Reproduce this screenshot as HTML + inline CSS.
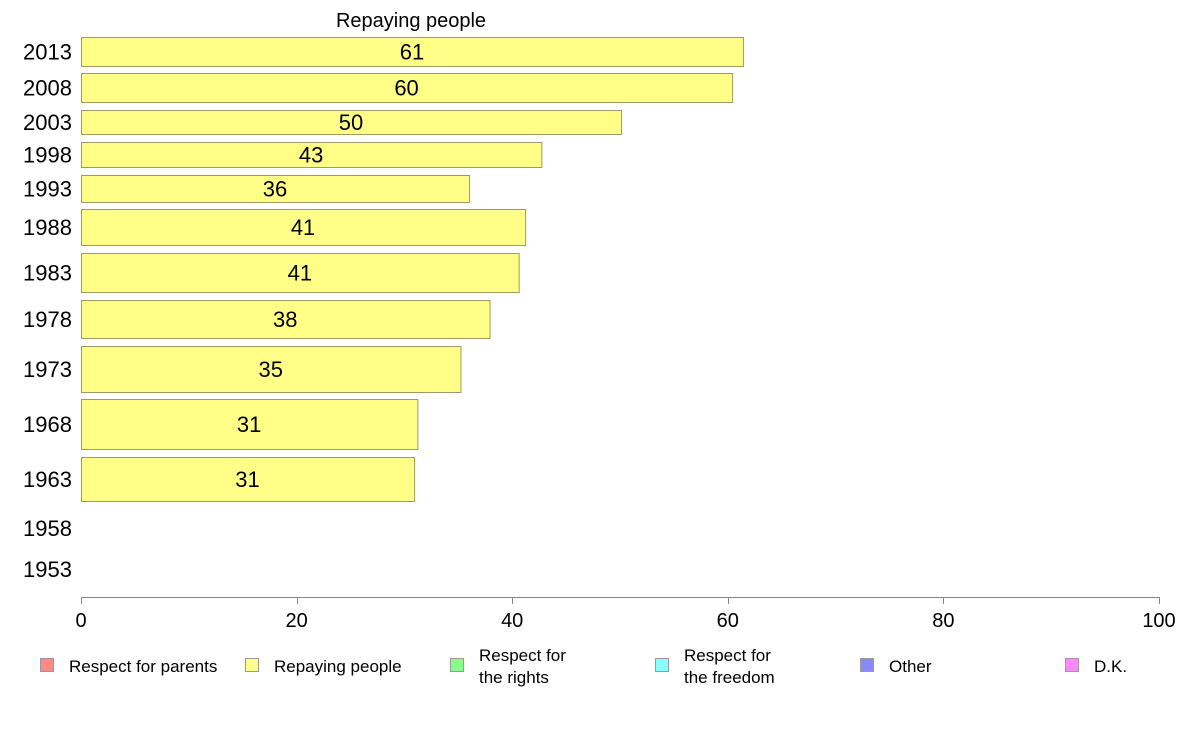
<!DOCTYPE html>
<html><head><meta charset="utf-8">
<style>
html,body{margin:0;padding:0;background:#fff;}
svg{display:block;font-family:"Liberation Sans",Arial,sans-serif;}
</style></head>
<body>
<svg id="chart" width="1188" height="736" viewBox="0 0 1188 736">
  <text x="411" y="27" font-size="20" text-anchor="middle" fill="#000">Repaying people</text>
  <g id="bars"></g>
  <g id="xaxis"></g>
  <g id="legend"></g>
</svg>
<script>
const years = ["2013","2008","2003","1998","1993","1988","1983","1978","1973","1968","1963","1958","1953"];
const values = [61.4, 60.4, 50.1, 42.7, 36.0, 41.2, 40.6, 37.9, 35.2, 31.2, 30.9, null, null];
const valueLabels = ["61","60","50","43","36","41","41","38","35","31","31","",""];
const xTicks = [0, 20, 40, 60, 80, 100];
const legendLabels = [["Respect for parents"],["Repaying people"],["Respect for","the rights"],["Respect for","the freedom"],["Other"],["D.K."]];
const legendColors = ["#ff8888","#ffff88","#88ff88","#88ffff","#8888ff","#ff88ff"];

// layout (pixel bands per row, not data)
const bandTop = [37,73,110,142,175,209,253,300,346,399,457,510,550];
const bandBot = [66,102,134,167,202,245,292,338,392,449,501,546,588];

const NS = "http://www.w3.org/2000/svg";
const x0 = 81, x1 = 1159;
function xScale(v){ return x0 + (x1 - x0) * v / 100; }
function mk(tag, attrs){ const e = document.createElementNS(NS, tag); for (const k in attrs) e.setAttribute(k, attrs[k]); return e; }

const bars = document.getElementById("bars");
years.forEach((yr, i) => {
  const cy = (bandTop[i] + bandBot[i]) / 2;
  const t = mk("text", {x: 72, y: cy + 8, "font-size": 22, "text-anchor": "end", fill: "#000"});
  
  
  t.textContent = yr;
  bars.appendChild(t);
  if (values[i] == null) return;
  const w = xScale(values[i]) - x0;
  const r = mk("rect", {x: x0 + 0.5, y: bandTop[i] + 0.5, width: w, height: bandBot[i] - bandTop[i], fill: "#ffff88", stroke: "#9a9a6a", "stroke-width": 1});
  
  
  bars.appendChild(r);
  const l = mk("text", {x: x0 + w / 2, y: cy + 8, "font-size": 22, "text-anchor": "middle", fill: "#000"});
  
  
  l.textContent = valueLabels[i];
  bars.appendChild(l);
});

const xa = document.getElementById("xaxis");
const line = mk("line", {x1: x0, x2: x1, y1: 597.5, y2: 597.5, stroke: "#888", "stroke-width": 1});


xa.appendChild(line);
xTicks.forEach(v => {
  const x = Math.round(xScale(v)) + 0.5;
  const tk = mk("line", {x1: x, x2: x, y1: 597, y2: 604, stroke: "#888", "stroke-width": 1});
  
  
  xa.appendChild(tk);
  const tl = mk("text", {x: xScale(v), y: 627, "font-size": 20, "text-anchor": "middle", fill: "#000"});
  
  
  tl.textContent = v;
  xa.appendChild(tl);
});

const lg = document.getElementById("legend");
legendLabels.forEach((lines, i) => {
  const lx = 40 + i * 205;
  const sw = mk("rect", {x: lx + 0.5, y: 658.5, width: 13, height: 13, fill: legendColors[i], stroke: "#999", "stroke-width": 1});
  
  
  lg.appendChild(sw);
  lines.forEach((s, j) => {
    const y = lines.length === 1 ? 672 : 661 + j * 22;
    const t = mk("text", {x: lx + 29, y: y, "font-size": 17, fill: "#000"});
    
    
    t.textContent = s;
    lg.appendChild(t);
  });
});
</script>
</body></html>
